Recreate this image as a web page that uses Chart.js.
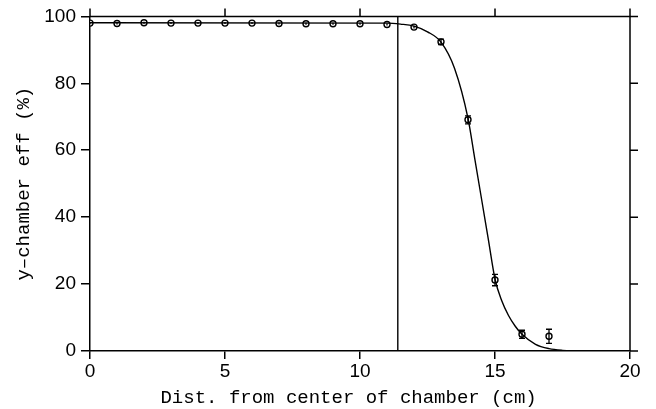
<!DOCTYPE html>
<html lang="en">
  <head>
    <meta charset="UTF-8" />
    <title>y-chamber efficiency</title>
    <script src="https://cdn.jsdelivr.net/npm/chart.js@4"></script>
    <style>
      body {
        margin: 0;
        background-color: #ffffff;
      }
    </style>
  </head>
  <body>
    <canvas id="effChart" width="656" height="409"></canvas>
    <script>
      // measured efficiency vs. distance (cm), with errors
      const dist = [0, 1, 2, 3, 4, 5, 6, 7, 8, 9, 10, 11, 12, 13, 14, 15, 16, 17];
      const eff = [98.0, 97.9, 98.1, 98.0, 98.0, 98.0, 98.0, 97.9, 97.8, 97.8, 97.8, 97.6, 96.8, 92.4, 69.1, 21.2, 5.0, 4.4];
      const effErr = [0.4, 0.3, 0.3, 0.3, 0.3, 0.3, 0.3, 0.3, 0.3, 0.3, 0.3, 0.3, 0.4, 0.8, 1.2, 1.7, 1.2, 2.1];

      // fitted curve
      const fitX = [0, 11, 11.5, 12, 12.5, 13, 13.5, 14, 14.25, 14.5, 14.75, 15, 15.25, 15.5, 15.75, 16, 16.5, 17, 17.5, 18, 18.3];
      const fitY = [98.1, 98.0, 97.7, 97.1, 95.4, 92.3, 84.5, 69.5, 57.5, 45.5, 33.5, 21.5, 15.0, 10.6, 7.4, 5.0, 2.0, 0.7, 0.2, 0.05, 0.0];

      // cut position
      const cutX = 11.4;

      const xTicks = [0, 5, 10, 15, 20];
      const yTicks = [0, 20, 40, 60, 80, 100];

      const toPts = (xs, ys) => xs.map((x, i) => ({x: x, y: ys[i]}));

      const errorBars = {
        id: "errorBars",
        afterDatasetsDraw(chart) {
          const ctx = chart.ctx;
          const xs = chart.scales.x;
          const ys = chart.scales.y;
          ctx.save();
          ctx.strokeStyle = "#000";
          ctx.lineWidth = 1.3;
          dist.forEach((d, i) => {
            const px = xs.getPixelForValue(d);
            const lo = ys.getPixelForValue(eff[i] - effErr[i]);
            const hi = ys.getPixelForValue(eff[i] + effErr[i]);
            ctx.beginPath();
            ctx.moveTo(px, lo);
            ctx.lineTo(px, hi);
            if (hi - lo < -3) {
              ctx.moveTo(px - 3, lo);
              ctx.lineTo(px + 3, lo);
              ctx.moveTo(px - 3, hi);
              ctx.lineTo(px + 3, hi);
            }
            ctx.stroke();
          });
          ctx.restore();
        },
      };

      // closed frame with ticks mirrored on top and right
      const frame = {
        id: "frame",
        afterDraw(chart) {
          const ctx = chart.ctx;
          const a = chart.chartArea;
          const xs = chart.scales.x;
          const ys = chart.scales.y;
          ctx.save();
          ctx.strokeStyle = "#000";
          ctx.lineWidth = 1.5;
          ctx.beginPath();
          ctx.moveTo(a.left, a.top);
          ctx.lineTo(a.right, a.top);
          ctx.lineTo(a.right, a.bottom);
          xTicks.forEach((t) => {
            const px = xs.getPixelForValue(t);
            ctx.moveTo(px, a.top);
            ctx.lineTo(px, a.top - 8);
          });
          yTicks.forEach((t) => {
            const py = ys.getPixelForValue(t);
            ctx.moveTo(a.right, py);
            ctx.lineTo(a.right + 8, py);
          });
          ctx.stroke();
          ctx.restore();
        },
      };

      new Chart(document.getElementById("effChart"), {
        type: "scatter",
        data: {
          datasets: [
            {
              data: toPts(fitX, fitY),
              showLine: true,
              borderColor: "#000",
              borderWidth: 1.4,
              pointRadius: 0,
              cubicInterpolationMode: "monotone",
            },
            {
              data: [{x: cutX, y: 0}, {x: cutX, y: 100}],
              showLine: true,
              borderColor: "#000",
              borderWidth: 1.4,
              pointRadius: 0,
            },
            {
              data: toPts(dist, eff),
              showLine: false,
              pointRadius: 3,
              pointBorderWidth: 1.4,
              pointBackgroundColor: "#fff",
              pointBorderColor: "#000",
            },
          ],
        },
        options: {
          responsive: false,
          animation: false,
          layout: {padding: {top: 13, right: 26, left: 0, bottom: 0}},
          plugins: {legend: {display: false}, tooltip: {enabled: false}},
          scales: {
            x: {
              min: 0,
              max: 20,
              afterFit: (s) => { s.height = 58; },
              afterBuildTicks: (s) => { s.ticks = xTicks.map((v) => ({value: v})); },
              grid: {drawOnChartArea: false, color: "#000", lineWidth: 1.5, tickLength: 8},
              border: {color: "#000", width: 1.5},
              ticks: {color: "#000", padding: 1, font: {family: "Liberation Sans", size: 19}},
              title: {
                display: true,
                text: "Dist. from center of chamber (cm)  ",
                color: "#000",
                padding: {top: 4, bottom: 0},
                font: {family: "Liberation Mono", size: 19},
              },
            },
            y: {
              min: 0,
              max: 100,
              afterFit: (s) => { s.width = 90; },
              afterBuildTicks: (s) => { s.ticks = yTicks.map((v) => ({value: v})); },
              grid: {drawOnChartArea: false, color: "#000", lineWidth: 1.5, tickLength: 9},
              border: {color: "#000", width: 1.5},
              ticks: {color: "#000", padding: 5, font: {family: "Liberation Sans", size: 19}},
              title: {
                display: true,
                text: "y\u2013chamber eff (%)",
                color: "#000",
                padding: {top: 13, bottom: 0},
                font: {family: "Liberation Mono", size: 19},
              },
            },
          },
        },
        plugins: [errorBars, frame],
      });
    </script>
  </body>
</html>
